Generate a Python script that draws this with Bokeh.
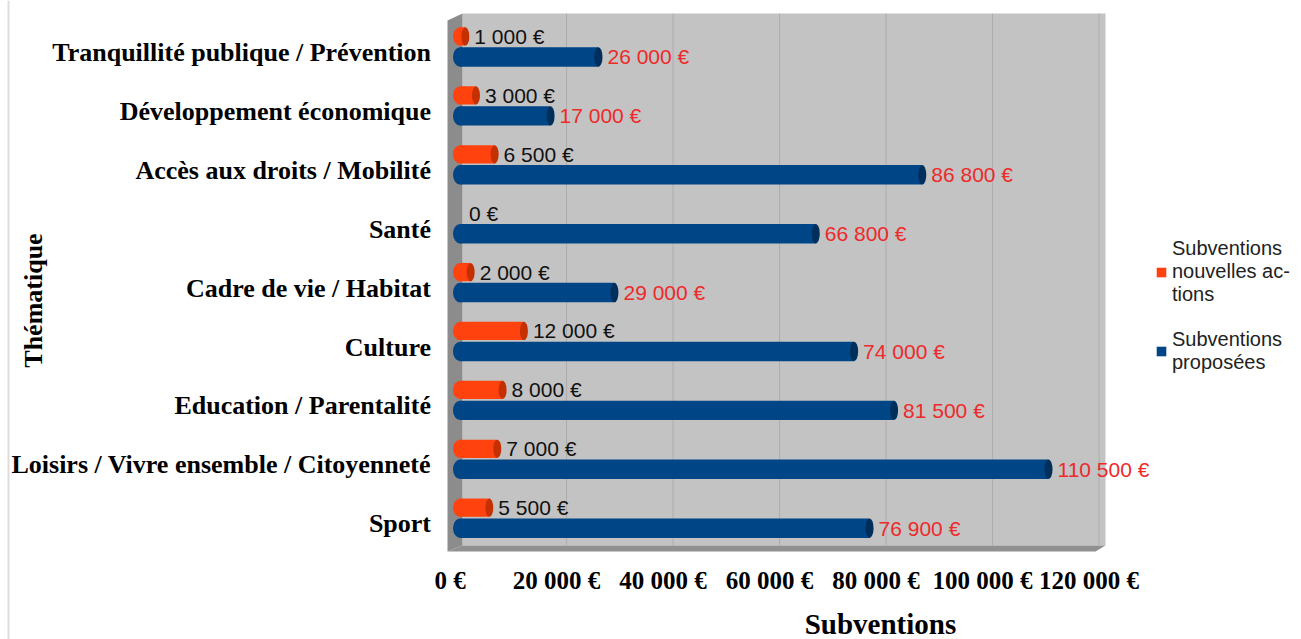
import math
from bokeh.plotting import figure
from bokeh.models import (ColumnDataSource, Range1d, LabelSet, Label, Legend,
                          LegendItem, Span)
from bokeh.core.properties import value
from bokeh.embed import file_html
from bokeh.resources import INLINE

# ---------------- data ----------------
categories = [
    "Tranquillité publique / Prévention",
    "Développement économique",
    "Accès aux droits / Mobilité",
    "Santé",
    "Cadre de vie / Habitat",
    "Culture",
    "Education / Parentalité",
    "Loisirs / Vivre ensemble / Citoyenneté",
    "Sport",
]
nouvelles = [1000, 3000, 6500, 0, 2000, 12000, 8000, 7000, 5500]
proposees = [26000, 17000, 86800, 66800, 29000, 74000, 81500, 110500, 76900]
series_labels = ["Subventions\nnouvelles ac-\ntions", "Subventions\nproposées"]
x_ticks = [0, 20000, 40000, 60000, 80000, 100000, 120000]
x_tick_labels = ["0 €", "20 000 €", "40 000 €", "60 000 €", "80 000 €", "100 000 €", "120 000 €"]
x_title = "Subventions"
y_title = "Thématique"

# ---------------- styling ----------------
ORANGE = "#ff420e"
ORANGE_DARK = "#c53000"
BLUE = "#004586"
BLUE_DARK = "#002f5c"
RED_TXT = "#ee2a2a"
WALL = "#c3c3c3"
SIDE = "#8c8c8c"
FLOOR = "#909090"
SERIF = value("Liberation Serif")
SANS = value("Liberation Sans")


def euro(v):
    return f"{v:,}".replace(",", " ") + " €"


n = len(categories)
ypos = [n - 1 - i for i in range(n)]
OFF_O, H_O = 0.272, 0.31
OFF_B, H_B = -0.076, 0.33

# scale extents (whole canvas is the frame; the chart "wall" is drawn inside it)
X0, X1 = -86276, 158000
Y0, Y1 = -1.966, 8.883
PX_X = (X1 - X0) / 1301.0
PX_Y = (Y1 - Y0) / 639.0
WALL_L, WALL_R = -2347, 121200
WALL_B, WALL_T = -0.472, 8.662
SIDE_R = 470
FLOOR_T = WALL_B + 6 * PX_Y
TICK_Y = -0.964
BORDER_X = X0 + 8 * PX_X

src = ColumnDataSource(dict(
    y_o=[y + OFF_O for y in ypos],
    y_b=[y + OFF_B for y in ypos],
    nouv=nouvelles,
    prop=proposees,
    lab_o=[euro(v) for v in nouvelles],
    lab_b=[euro(v) for v in proposees],
))
src_o_caps = ColumnDataSource(dict(
    y=[y + OFF_O for y, v in zip(ypos, nouvelles) if v > 0],
    x=[v for v in nouvelles if v > 0],
))
src_b_caps = ColumnDataSource(dict(
    y=[y + OFF_B for y in ypos],
    x=proposees,
))
src_cat = ColumnDataSource(dict(y=ypos, text=categories, x=[0] * n))
src_ticks = ColumnDataSource(dict(x=x_ticks, text=x_tick_labels, y=[TICK_Y] * len(x_ticks)))
src_grid = ColumnDataSource(dict(x=x_ticks[1:]))

p = figure(width=1301, height=639,
           x_range=Range1d(X0, X1), y_range=Range1d(Y0, Y1),
           output_backend="svg", toolbar_location=None,
           x_axis_location=None, y_axis_location=None,
           min_border=0, min_border_left=0, min_border_right=0,
           min_border_top=0, min_border_bottom=0,
           background_fill_color="white", border_fill_color="white",
           outline_line_color=None)
p.grid.visible = False

# outer border line of the chart
p.add_layout(Span(location=BORDER_X, dimension="height",
                  line_color="#dddddd", line_width=2))

# 3D walls: back wall, side wall, floor
p.quad(left=SIDE_R, right=WALL_R, bottom=FLOOR_T, top=WALL_T,
       fill_color=WALL, line_color=None)
p.patch(x=[WALL_L, WALL_L, SIDE_R, SIDE_R],
        y=[WALL_B, WALL_T - 7 * PX_Y, WALL_T, FLOOR_T],
        fill_color=SIDE, line_color=None)
p.patch(x=[WALL_L, WALL_R - 10 * PX_X, WALL_R, SIDE_R],
        y=[WALL_B, WALL_B, FLOOR_T, FLOOR_T],
        fill_color=FLOOR, line_color=None)

# grid lines
p.segment(x0="x", y0=FLOOR_T, x1="x", y1=WALL_T, source=src_grid,
          line_color="#adadad", line_width=1)

# bars (cylinders)
r_o = p.hbar(y="y_o", left=0, right="nouv", height=H_O, source=src,
             fill_color=ORANGE, line_color=None)
p.ellipse(x=0, y="y", width=14, height=H_O, width_units="screen",
          source=src_o_caps, fill_color=ORANGE, line_color=None)
p.ellipse(x="x", y="y", width=8, height=H_O, width_units="screen",
          source=src_o_caps, fill_color=ORANGE_DARK, line_color=None)

r_b = p.hbar(y="y_b", left=0, right="prop", height=H_B, source=src,
             fill_color=BLUE, line_color=None)
p.ellipse(x=0, y="y", width=14, height=H_B, width_units="screen",
          source=src_b_caps, fill_color=BLUE, line_color=None)
p.ellipse(x="x", y="y", width=8, height=H_B, width_units="screen",
          source=src_b_caps, fill_color=BLUE_DARK, line_color=None)

# data labels
p.add_layout(LabelSet(x="nouv", y="y_o", text="lab_o", source=src,
                      x_offset=9, text_align="left", text_baseline="middle",
                      text_font=SANS, text_font_size="21px", text_color="#111111"))
p.add_layout(LabelSet(x="prop", y="y_b", text="lab_b", source=src,
                      x_offset=9, text_align="left", text_baseline="middle",
                      text_font=SANS, text_font_size="21px", text_color=RED_TXT))

# category (y) tick labels
p.text(x="x", y="y", text="text", source=src_cat, x_offset=-29,
       text_align="right", text_baseline="middle",
       text_font=SERIF, text_font_style="bold", text_font_size="26px",
       text_color="black")

# value (x) tick labels
p.text(x="x", y="y", text="text", source=src_ticks, x_offset=-10,
       text_align="center", text_baseline="middle",
       text_font=SERIF, text_font_style="bold", text_font_size="25px",
       text_color="black")

# axis titles
p.add_layout(Label(x=-80080, y=3.789, text=y_title, angle=math.pi / 2,
                   text_align="center", text_baseline="middle", text_color="black",
                   text_font="Liberation Serif", text_font_style="bold", text_font_size="26px"))
p.add_layout(Label(x=78950, y=-1.70, text=x_title,
                   text_align="center", text_baseline="middle", text_color="black",
                   text_font="Liberation Serif", text_font_style="bold", text_font_size="29px"))

# legend
legend = Legend(items=[LegendItem(label=series_labels[0], renderers=[r_o]),
                       LegendItem(label=series_labels[1], renderers=[r_b])],
                location=(1155, 265), orientation="vertical",
                glyph_width=12, glyph_height=12, label_standoff=5,
                spacing=22, padding=0, margin=0,
                border_line_color=None, background_fill_alpha=0,
                label_text_font="Liberation Sans", label_text_font_size="20px",
                label_text_color="#222222")
p.add_layout(legend)

open("out.html", "w").write(file_html(p, INLINE))
